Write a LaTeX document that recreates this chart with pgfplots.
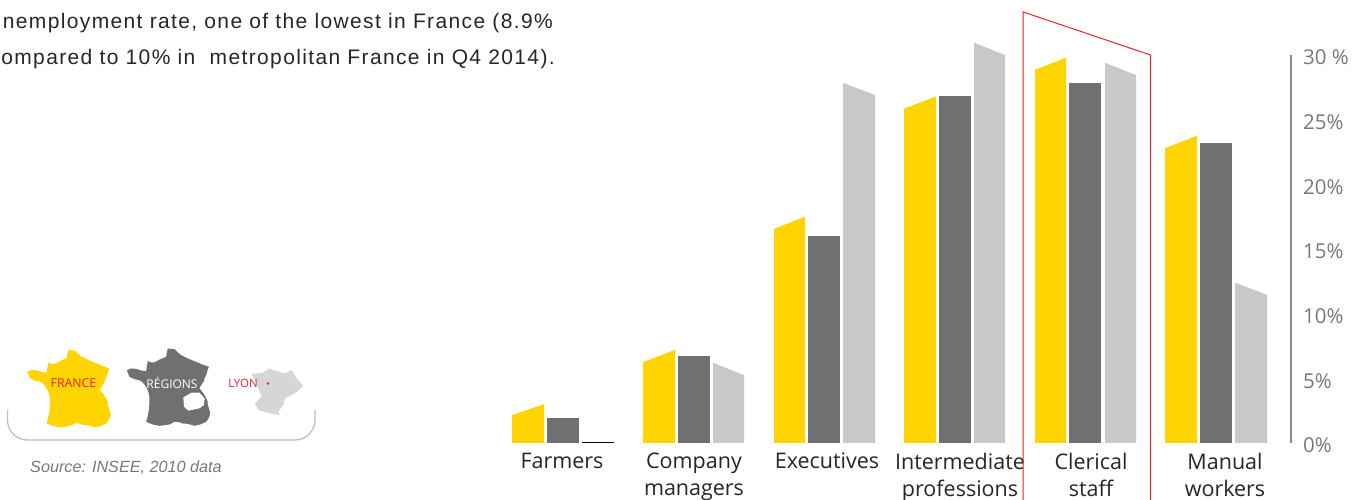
\documentclass[border=0pt]{standalone}
\usepackage{fontspec}
\usepackage{pgfplots}
\pgfplotsset{compat=1.18}
\setmainfont{Open Sans}
\newfontfamily\bodyfont[LetterSpace=6.5]{Liberation Sans}
\newfontfamily\sourcefont{Liberation Sans}
\definecolor{eyyellow}{HTML}{FFD400}
\definecolor{eygrey}{HTML}{6F7072}
\definecolor{eylight}{HTML}{C7C8CA}
\definecolor{eyred}{HTML}{E1252B}
\definecolor{axisgrey}{HTML}{8A8B8D}
\definecolor{ticktext}{HTML}{77787B}
\definecolor{bracket}{HTML}{BCC0C4}
\definecolor{lyonfill}{HTML}{D6D6D6}
% outlines in a local grid, one unit = 1/3 of a point
\def\franceoutline{(22,95)--(35,90)--(50,91)--(65,96)--(80,98)--(82,84)--(85,68)--(95,72)--(105,72)--(122,62)--(140,55)--(142,42)--(145,30)--(165,32)--(175,42)--(185,50)--(205,60)--(225,68)--(248,78)--(268,85)--(264,96)--(262,105)--(256,118)--(252,130)--(245,140)--(240,150)--(250,162)--(258,175)--(264,188)--(265,200)--(269,212)--(272,225)--(268,238)--(260,250)--(242,258)--(225,262)--(205,256)--(190,255)--(175,250)--(165,250)--(150,258)--(120,262)--(100,258)--(80,250)--(85,232)--(88,215)--(90,195)--(90,175)--(86,158)--(80,145)--(70,132)--(60,125)--(45,122)--(30,115)--cycle}
\begin{document}
\begin{tikzpicture}[x=1pt,y=1pt]
\useasboundingbox (0,0) rectangle (1365,500);
% body text above the maps
\node[anchor=base east,inner sep=0,font=\bodyfont\fontsize{21}{24}\selectfont,text=black!85] at (553,471.5) {nemployment rate, one of the lowest in France (8.9\%};
\node[anchor=base east,inner sep=0,font=\bodyfont\fontsize{21}{24}\selectfont,text=black!85] at (555,435) {ompared to 10\% in\ \ metropolitan France in Q4 2014).};
% maps
\fill[eyyellow,shift={(20,160)},x=0.3333pt,y=-0.3333pt] \franceoutline;
\fill[eygrey,shift={(119.5,161.5)},x=0.3333pt,y=-0.3333pt] \franceoutline;
\fill[white,shift={(120,160)},x=0.3333pt,y=-0.3333pt] (190,172)--(215,158)--(238,158)--(254,175)--(252,195)--(238,205)--(205,212)--(192,200)--cycle;
\fill[lyonfill,shift={(220,150)},x=0.3333pt,y=-0.3333pt] (95,72)--(130,68)--(148,55)--(165,62)--(195,70)--(215,60)--(230,85)--(250,108)--(225,130)--(195,145)--(190,165)--(175,185)--(180,195)--(150,190)--(115,180)--(105,160)--(125,140)--(110,100)--cycle;
\fill[eyred] (268,116.5) circle (1.3);
\node[font=\fontsize{12.3}{14}\selectfont,text=eyred] at (73.5,116.5) {FRANCE};
\node[font=\fontsize{12}{14}\selectfont,text=white] at (172,117.5) {RÉGIONS};
\node[font=\fontsize{11.5}{14}\selectfont,text=eyred] at (243,116.5) {LYON};
\draw[bracket,line width=1.3] (7.5,90)--(7.5,80) arc[start angle=180,end angle=270,radius=20] -- (295,60) arc[start angle=270,end angle=360,radius=20] -- (315,90);
\node[anchor=base west,inner sep=0,font=\sourcefont\itshape\fontsize{16.2}{18}\selectfont,text=ticktext] at (30,27) {Source: INSEE, 2010 data};
\begin{axis}[
  at={(500pt,57pt)},anchor=south west,
  scale only axis,width=791pt,height=388pt,
  xmin=500,xmax=1291,ymin=0,ymax=30,
  clip=false,
  axis y line*=right,axis x line*=bottom,
  axis line style={-},
  x axis line style={draw=none},
  y axis line style={axisgrey,line width=2pt},
  major tick length=0pt,
  xtick={562,694,827,960,1091,1225},
  xticklabels={Farmers,Company\\managers,Executives,Intermediate\\professions,Clerical\\staff,Manual\\workers},
  xticklabel style={align=center,anchor=north,inner sep=0,yshift=-10pt,text=black!85,font=\fontsize{21.5}{27}\selectfont},
  ytick={0,5,10,15,20,25,30},
  yticklabels={0\%,5\%,10\%,15\%,20\%,25\%,30 \%},
  yticklabel style={anchor=west,inner sep=0,xshift=12pt,yshift=-2.5pt,text=ticktext,font=\fontsize{20.5}{24}\selectfont},
]
% Farmers
\addplot[fill=eyyellow,draw=none] coordinates {(512,0)(512,2.15)(544,3.0)(544,0)} --cycle;
\addplot[fill=eygrey,draw=none] coordinates {(547,0)(547,1.9)(579,1.9)(579,0)} --cycle;
\addplot[black,line width=1.2pt] coordinates {(582,0.05)(614,0.05)};
% Company managers
\addplot[fill=eyyellow,draw=none] coordinates {(643,0)(643,6.25)(675,7.2)(675,0)} --cycle;
\addplot[fill=eygrey,draw=none] coordinates {(678,0)(678,6.7)(710,6.7)(710,0)} --cycle;
\addplot[fill=eylight,draw=none] coordinates {(713,0)(713,6.2)(744,5.25)(744,0)} --cycle;
% Executives
\addplot[fill=eyyellow,draw=none] coordinates {(774,0)(774,16.55)(805,17.5)(805,0)} --cycle;
\addplot[fill=eygrey,draw=none] coordinates {(808,0)(808,16)(840,16)(840,0)} --cycle;
\addplot[fill=eylight,draw=none] coordinates {(843,0)(843,27.85)(875,26.9)(875,0)} --cycle;
% Intermediate professions
\addplot[fill=eyyellow,draw=none] coordinates {(904,0)(904,25.85)(936,26.8)(936,0)} --cycle;
\addplot[fill=eygrey,draw=none] coordinates {(939,0)(939,26.8)(971,26.8)(971,0)} --cycle;
\addplot[fill=eylight,draw=none] coordinates {(974,0)(974,30.95)(1005,30.0)(1005,0)} --cycle;
% Clerical staff
\addplot[fill=eyyellow,draw=none] coordinates {(1035,0)(1035,28.85)(1066,29.8)(1066,0)} --cycle;
\addplot[fill=eygrey,draw=none] coordinates {(1069,0)(1069,27.85)(1101,27.85)(1101,0)} --cycle;
\addplot[fill=eylight,draw=none] coordinates {(1105,0)(1105,29.4)(1136,28.45)(1136,0)} --cycle;
% Manual workers
\addplot[fill=eyyellow,draw=none] coordinates {(1165,0)(1165,22.8)(1197,23.75)(1197,0)} --cycle;
\addplot[fill=eygrey,draw=none] coordinates {(1200,0)(1200,23.2)(1232,23.2)(1232,0)} --cycle;
\addplot[fill=eylight,draw=none] coordinates {(1235,0)(1235,12.4)(1267,11.45)(1267,0)} --cycle;
% highlight frame around clerical staff
\addplot[eyred,line width=1pt] coordinates {(1023,-4.41)(1023,33.33)(1150.5,30.0)(1150.5,-4.41)};
\end{axis}
\end{tikzpicture}
\end{document}
